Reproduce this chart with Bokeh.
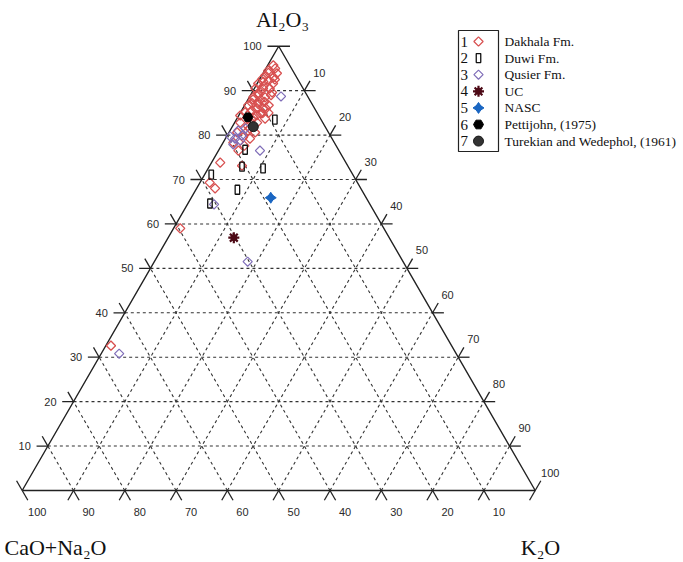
import math
from bokeh.plotting import figure
from bokeh.models import Range1d
from bokeh.core.properties import value
from bokeh.embed import file_html
from bokeh.resources import INLINE

# ---------------- data (wt.% : Al2O3, CaO+Na2O, K2O) ----------------
dakhala_al2o3 = [95.0, 95.7, 94.5, 93.9, 93.4, 92.7, 92.3, 91.6, 91.6, 90.5, 90.5, 89.6, 89.4,
                 88.5, 88.5, 87.4, 87.2, 86.7, 86.0, 85.1, 84.9, 84.0, 83.7, 82.8, 84.4, 84.9,
                 81.5, 80.6, 79.5, 79.2, 78.3, 80.6, 73.8, 73.1, 69.3, 68.0, 59.0, 32.6,
                 86.7, 85.1, 82.8, 93.0, 88.0, 86.0, 83.0, 90.0, 87.5, 76.5, 77.6,
                 94.0, 92.0, 91.0, 89.0, 88.0, 87.0, 85.5, 84.5, 83.5, 92.5, 90.5, 89.0,
                 86.0, 85.0, 82.0, 81.0]
dakhala_cn = [3.2, 3.2, 4.8, 3.4, 5.9, 6.8, 5.8, 8.2, 5.3, 9.3, 7.8, 6.5, 9.3,
              10.7, 8.4, 10.3, 11.6, 8.6, 11.2, 13.0, 10.7, 13.0, 10.8, 12.8, 15.3, 11.1,
              14.9, 17.8, 17.2, 16.0, 19.7, 14.3, 24.5, 20.6, 28.8, 28.4, 39.7, 66.4,
              12.6, 14.0, 16.1, 4.5, 9.5, 9.5, 14.0, 8.5, 9.0, 19.6, 17.9,
              5.0, 7.0, 7.5, 9.5, 11.0, 10.5, 12.5, 12.0, 13.5, 4.5, 6.5, 7.0,
              10.0, 9.5, 15.0, 15.5]
dakhala_k2o = [1.8, 1.1, 0.7, 2.7, 0.7, 0.5, 1.9, 0.2, 3.1, 0.2, 1.7, 3.9, 1.3,
               0.8, 3.1, 2.3, 1.2, 4.7, 2.8, 1.9, 4.4, 3.0, 5.5, 4.4, 0.3, 4.0,
               3.6, 1.6, 3.3, 4.8, 2.0, 5.1, 1.7, 6.3, 1.9, 3.6, 1.3, 1.0,
               0.7, 0.9, 1.1, 2.5, 2.5, 4.5, 3.0, 1.5, 3.5, 3.9, 4.5,
               1.0, 1.0, 1.5, 1.5, 1.0, 2.5, 2.0, 3.5, 3.0, 3.0, 3.0, 4.0,
               4.0, 5.5, 3.0, 3.5]

duwi_al2o3 = [83.5, 76.7, 72.9, 72.5, 67.7, 71.1, 64.6]
duwi_cn = [9.0, 18.2, 20.7, 16.8, 24.2, 27.6, 31.1]
duwi_k2o = [7.5, 5.1, 6.4, 10.7, 8.1, 1.3, 4.3]

qusier_al2o3 = [88.7, 76.5, 64.4, 51.5, 30.8, 81.0, 79.9, 79.2, 78.8, 77.9, 81.5, 79.7]
qusier_cn = [5.2, 15.4, 30.4, 30.3, 65.7, 17.4, 17.2, 18.9, 18.1, 19.9, 15.7, 19.6]
qusier_k2o = [6.1, 8.1, 5.2, 18.2, 3.5, 1.6, 2.9, 1.9, 3.1, 2.2, 2.8, 0.7]

uc_al2o3, uc_cn, uc_k2o = [56.9], [30.3], [12.8]
nasc_al2o3, nasc_cn, nasc_k2o = [65.9], [18.6], [15.5]
pet_al2o3, pet_cn, pet_k2o = [84.0], [14.0], [2.0]
tur_al2o3, tur_cn, tur_k2o = [81.9], [14.0], [4.1]

grid_values = [10, 20, 30, 40, 50, 60, 70, 80, 90]
tick_values = [0, 10, 20, 30, 40, 50, 60, 70, 80, 90, 100]

legend_numbers = ["1", "2", "3", "4", "5", "6", "7"]
legend_labels = ["Dakhala Fm.", "Duwi Fm.", "Qusier Fm.", "UC", "NASC",
                 "Pettijohn, (1975)", "Turekian and Wedephol, (1961)"]

top_title = "Al\u2082O\u2083"
left_title = "CaO+Na\u2082O"
right_title = "K\u2082O"

# ---------------- geometry ----------------
W, H = 683, 560
S = 513.0          # pixels per unit of triangle side
X0 = 21.7          # canvas x of the bottom-left vertex
Y0 = 490.0         # canvas y (from top) of the base
R3 = math.sqrt(3) / 2


def tern(a, c, k):
    xs, ys = [], []
    for ai, ci, ki in zip(a, c, k):
        s = ai + ci + ki
        A, K = ai / s, ki / s
        xs.append(K + A / 2)
        ys.append(A * R3)
    return xs, ys


def pg(px, py):
    """canvas pixel -> data"""
    return (px - X0) / S, (Y0 - py) / S


p = figure(width=W, height=H, output_backend="svg", toolbar_location=None,
           x_range=Range1d(-X0 / S, (W - X0) / S),
           y_range=Range1d(-(H - Y0) / S, Y0 / S),
           x_axis_type=None, y_axis_type=None, min_border=0)
p.grid.visible = False
p.outline_line_color = None
p.background_fill_color = "white"

# grid lines (dashed)
gx, gy = [], []
for v in grid_values:
    f = v / 100.0
    gx.append([f / 2, 1 - f / 2]); gy.append([f * R3, f * R3])
    gx.append([1 - f, (1 - f) / 2]); gy.append([0, (1 - f) * R3])
    gx.append([f, (1 + f) / 2]); gy.append([0, (1 - f) * R3])
p.multi_line(gx, gy, line_color="#333333", line_width=1.1, line_dash="3 3")

# triangle
p.line([0, 1, 0.5, 0], [0, 0, R3, 0], line_color="#222222", line_width=1.4)

# ticks
L = 0.022
tx, ty = [], []
lx, ly, lt = [], [], []
bx, by, bt = [], [], []
rx, ry, rt = [], [], []
for v in tick_values:
    f = v / 100.0
    x, y = f / 2, f * R3
    if v > 0:
        tx.append([x, x - L]); ty.append([y, y])
        lx.append(x); ly.append(y); lt.append(str(v))
    if v < 100:
        tx.append([x, x - 0.5 * L]); ty.append([y, y + R3 * L])
    x, y = 1 - f, 0.0
    if v > 0:
        tx.append([x, x + 0.5 * L]); ty.append([y, y - R3 * L])
        bx.append(x); by.append(y); bt.append(str(v))
    if v < 100:
        tx.append([x, x - 0.5 * L]); ty.append([y, y - R3 * L])
    x, y = (1 + f) / 2, (1 - f) * R3
    if v < 100:
        tx.append([x, x + L]); ty.append([y, y])
    if v > 0:
        tx.append([x, x + 0.5 * L]); ty.append([y, y + R3 * L])
        rx.append(x); ry.append(y); rt.append(str(v))
p.multi_line(tx, ty, line_color="#222222", line_width=1.3)

lab_kw = dict(text_font=value("Liberation Sans"), text_font_size="11px",
              text_color="#2a2a2a", text_baseline="middle")
p.text(lx, ly, text=lt, text_align="right", x_offset=-17, **lab_kw)
p.text(bx, by, text=bt, text_align="center", x_offset=15, y_offset=21, **lab_kw)
p.text(rx, ry, text=rt, text_align="center", x_offset=15, y_offset=-18, **lab_kw)

# titles
title_kw = dict(text_font=value("Liberation Serif"), text_font_size="22px",
                text_color="#111111", text_baseline="middle")
tx0, ty0 = pg(282, 19)
p.text([tx0], [ty0], text=[top_title], text_align="center", **title_kw)
tx0, ty0 = pg(4, 547)
p.text([tx0], [ty0], text=[left_title], text_align="left", **title_kw)
tx0, ty0 = pg(540, 547)
p.text([tx0], [ty0], text=[right_title], text_align="center", **title_kw)

# ---------------- data markers ----------------
dak_col = "#d85050"
qus_col = "#7f6db8"
uc_col = "#4d0a16"
nasc_col = "#1a66c2"


def draw_dakhala(x, y):
    p.scatter(x, y, marker="square", angle=math.pi / 4, size=6.5,
              fill_color=None, line_color=dak_col, line_width=1.3)


def draw_duwi(x, y):
    p.rect(x, y, width=4.5, height=9, width_units="screen", height_units="screen",
           fill_color=None, line_color="#111111", line_width=1.3)


def draw_qusier(x, y):
    p.scatter(x, y, marker="square", angle=math.pi / 4, size=6.5,
              fill_color=None, line_color=qus_col, line_width=1.2)


def draw_uc(x, y):
    p.scatter(x, y, marker="circle", size=6, fill_color=uc_col, line_color=uc_col)
    p.scatter(x, y, marker="asterisk", size=11, line_color=uc_col, line_width=2.2)


def draw_nasc(x, y):
    p.scatter(x, y, marker="diamond", size=11, fill_color=nasc_col, line_color=nasc_col)
    p.scatter(x, y, marker="diamond", angle=math.pi / 2, size=11,
              fill_color=nasc_col, line_color=nasc_col)


def draw_pet(x, y):
    p.scatter(x, y, marker="hex", size=10, fill_color="black", line_color="black")


def draw_tur(x, y):
    p.scatter(x, y, marker="circle", size=10, fill_color="#333333", line_color="#1a1a1a")


x, y = tern(dakhala_al2o3, dakhala_cn, dakhala_k2o); draw_dakhala(x, y)
x, y = tern(qusier_al2o3, qusier_cn, qusier_k2o); draw_qusier(x, y)
x, y = tern(duwi_al2o3, duwi_cn, duwi_k2o); draw_duwi(x, y)
x, y = tern(pet_al2o3, pet_cn, pet_k2o); draw_pet(x, y)
x, y = tern(tur_al2o3, tur_cn, tur_k2o); draw_tur(x, y)
x, y = tern(nasc_al2o3, nasc_cn, nasc_k2o); draw_nasc(x, y)
x, y = tern(uc_al2o3, uc_cn, uc_k2o); draw_uc(x, y)

# ---------------- legend ----------------
bx0, by0 = pg(458, 30)
bx1, by1 = pg(498, 151)
p.quad(left=[bx0], right=[bx1], top=[by0], bottom=[by1],
       fill_color=None, line_color="#222222", line_width=1.2)
row_y = [41 + 16.6 * i for i in range(len(legend_numbers))]
nx = [pg(460, ry_)[0] for ry_ in row_y]
ny = [pg(460, ry_)[1] for ry_ in row_y]
p.text(nx, ny, text=legend_numbers, text_align="left", text_baseline="middle",
       text_font=value("Liberation Serif"), text_font_size="15px", text_color="#111111")
mx = [pg(478, ry_)[0] for ry_ in row_y]
my = ny
draw_dakhala([mx[0]], [my[0]])
draw_duwi([mx[1]], [my[1]])
draw_qusier([mx[2]], [my[2]])
draw_uc([mx[3]], [my[3]])
draw_nasc([mx[4]], [my[4]])
draw_pet([mx[5]], [my[5]])
draw_tur([mx[6]], [my[6]])
tx_ = [pg(504, ry_)[0] for ry_ in row_y]
p.text(tx_, ny, text=legend_labels, text_align="left", text_baseline="middle",
       text_font=value("Liberation Serif"), text_font_size="13.5px", text_color="#111111")

open("out.html", "w").write(file_html(p, INLINE))
